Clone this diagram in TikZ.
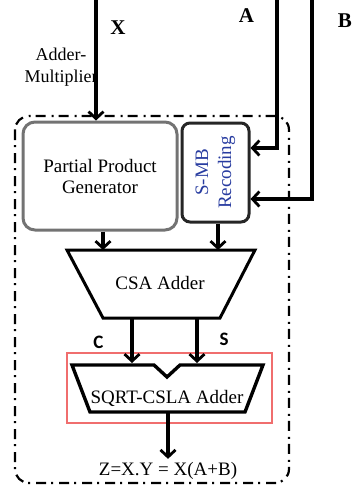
\documentclass[tikz,border=0pt]{standalone}
\usepackage{fontspec}
\setmainfont{Liberation Serif}
\newfontfamily\labelfont{Carlito}
\usetikzlibrary{arrows.meta,positioning}
\definecolor{smbblue}{RGB}{40,60,160}
\definecolor{boxred}{RGB}{240,110,110}

\begin{document}
\begin{tikzpicture}[x=1pt,y=-1pt,
		block/.style = {
			rectangle,rounded corners=12pt,line width=3pt,
			align=center,inner sep=0pt
		},
		adder/.style = {draw=black,line width=3pt,line join=miter},
		wire/.style = {->,line width=3.6pt},
		sig/.style = {font=\labelfont\bfseries\fontsize{19}{21}\selectfont},
		port/.style = {font=\bfseries\fontsize{21}{23}\selectfont},
		>={Straight Barb[length=7pt,width=15pt,line width=2.8pt]},
		font=\fontsize{19}{21}\selectfont]
	\useasboundingbox (0,0) rectangle (353,488);
	% outer adder-multiplier unit
	\draw[line width=2.2pt,dash pattern=on 10pt off 5pt on 2pt off 6pt,
		rounded corners=14pt] (15,116) rectangle (289,483);
	\node[block,draw=black!55,minimum width=154pt,minimum height=108pt]
		(ppg) at (100,176) {Partial Product\\Generator};
	\node[block,draw=black!85,rounded corners=8pt,minimum width=67pt,minimum height=99pt]
		(smb) at (215.5,172.5) {};
	\node[rotate=90,align=center,text=smbblue,font=\fontsize{19}{23}\selectfont]
		(smbtext) at (smb.center) {S-MB\\Recoding};
	\node[align=center,font=\fontsize{18}{22}\selectfont] (am) at (61,67) {Adder-\\Multiplier};
	% inputs
	\coordinate (xin) at (96,0);
	\coordinate (ain) at (277,0);
	\coordinate (bin) at (312,0);
	\node[port] (xlab) at (118,28) {X};
	\node[port] (alab) at (246.5,16) {A};
	\node[port] (blab) at (345,21) {B};
	% adders
	\coordinate (csa top) at (161,250);
	\coordinate (csa bot) at (161,318);
	\draw[adder] (67,250) -- (255,250) -- (220,318) -- (103,318) -- cycle;
	\node (csa) at (160,283) {CSA Adder};
	\draw[boxred,line width=1.5pt] (67,353) rectangle (272,423);
	\coordinate (sqrt top) at (167,363);
	\coordinate (sqrt bot) at (168,413);
	\draw[adder,line width=3.4pt] (72,365) -- (154,365) -- (167,377) -- (180,365)
		-- (263,365) -- (245,412) -- (90,412) -- cycle;
	\node (sqrt) at (167,398) {SQRT-CSLA Adder};
	\node[sig] (c) at (98.5,342) {C};
	\node[sig] (s) at (224,339) {S};
	\node (zout) at (168,471) {Z=X.Y = X(A+B)};
	% connections
	\draw[wire] (xin) -- (xin |- ppg.north);
	\draw[wire] (ain) |- ([yshift=24.5pt]smb.east);
	\draw[wire] (bin) |- ([yshift=-26.5pt]smb.east);
	\draw[wire] ([xshift=3pt]ppg.south) -- ([xshift=3pt]ppg.south |- csa top);
	\draw[wire] ([xshift=2.5pt]smb.south) -- ([xshift=2.5pt]smb.south |- csa top);
	\draw[wire] ([xshift=-29pt]csa bot) -- ([xshift=-29pt]csa bot |- sqrt top);
	\draw[wire] ([xshift=36pt]csa bot) -- ([xshift=36pt]csa bot |- sqrt top);
	\draw[wire] (sqrt bot) -- (zout.north);
\end{tikzpicture}
\end{document}
